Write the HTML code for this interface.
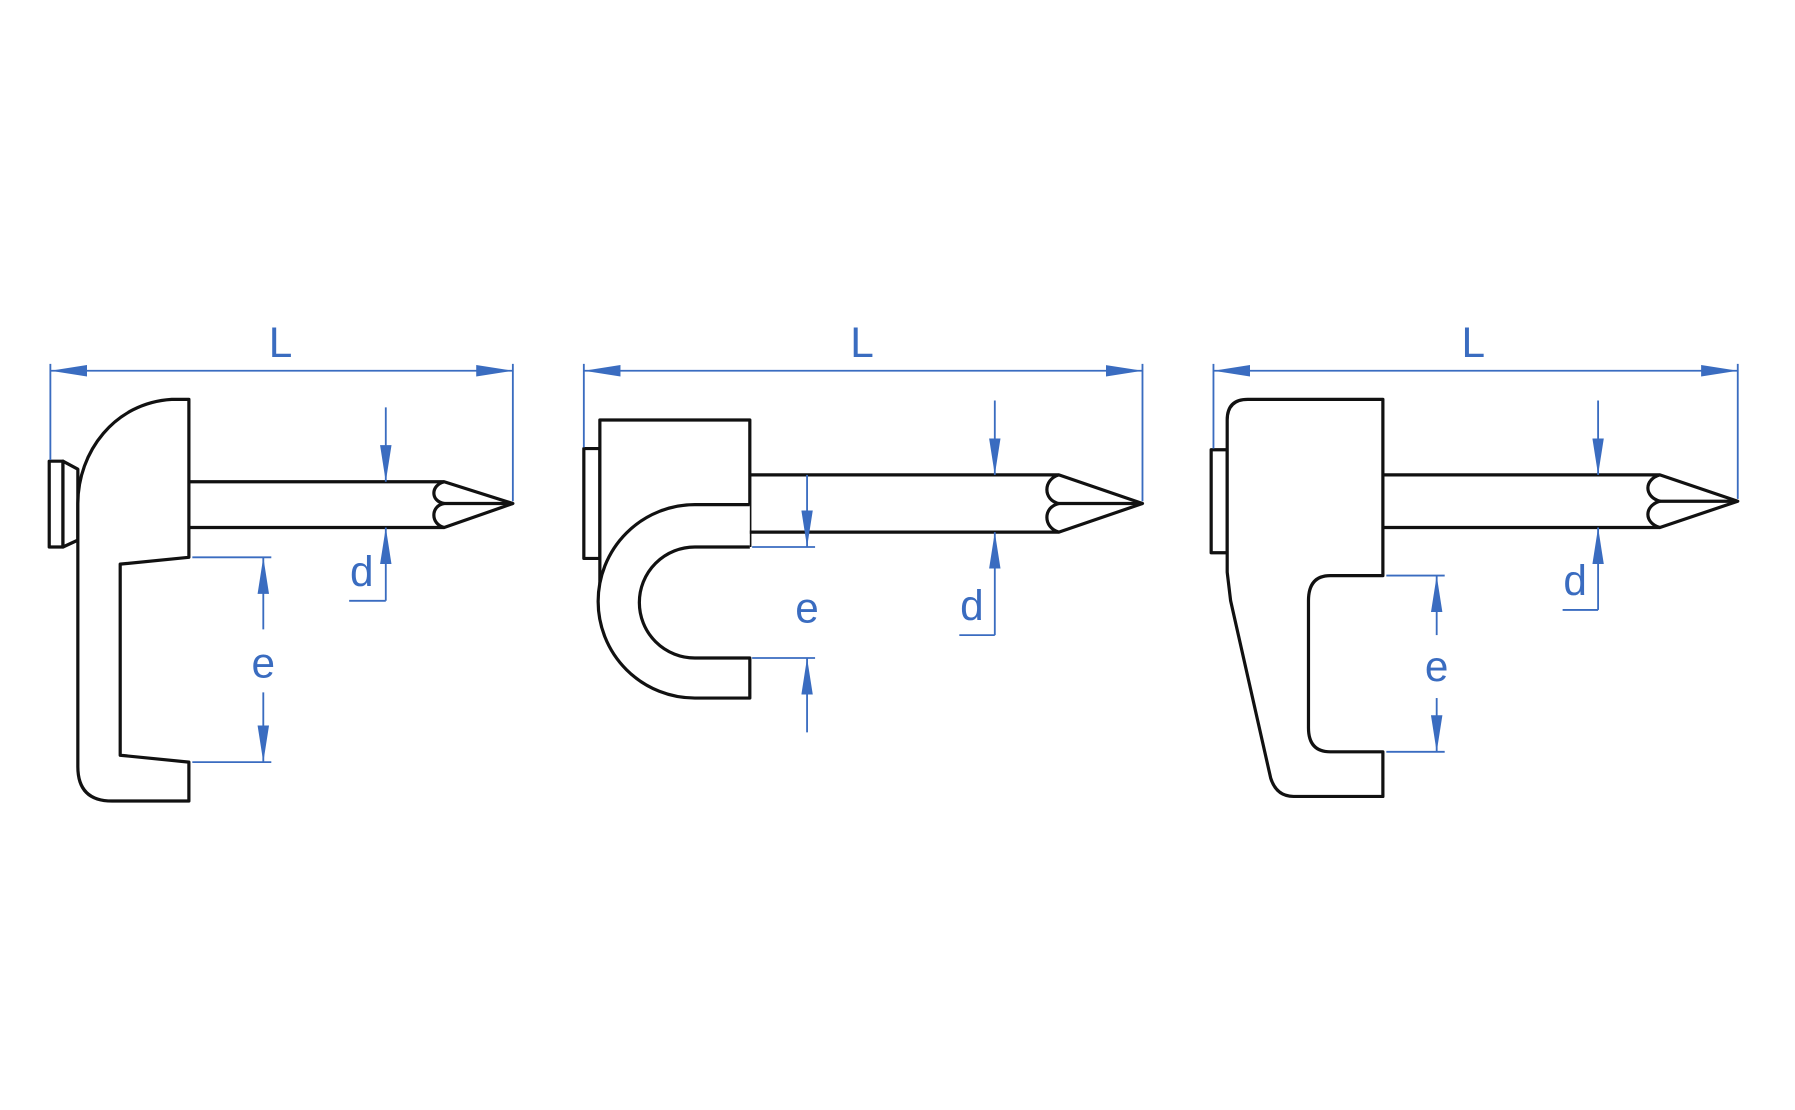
<!DOCTYPE html>
<html><head><meta charset="utf-8"><style>
html,body{margin:0;padding:0;background:#fff;}
svg{display:block;}
text{font-family:"Liberation Sans",sans-serif;fill:#3a6cc0;font-size:37px;text-anchor:middle;}
</style></head><body>
<svg width="1795" height="1110" viewBox="0 0 1568 970" preserveAspectRatio="none">
<defs>
<marker id="a" viewBox="0 0 10 10" refX="10" refY="5" markerWidth="32" markerHeight="10" markerUnits="userSpaceOnUse" orient="auto-start-reverse" preserveAspectRatio="none"><path d="M0,0 L10,5 L0,10 Z" fill="#3a6cc0"/></marker>
</defs>
<g stroke="#111" stroke-width="2.8" fill="#fff" stroke-linejoin="round">
<rect x="43" y="403" width="12" height="75"/>
<path d="M55,403 L68,410 L68,472 L55,478 Z"/>
<path d="M165,349 L150,349 C100,352 68,395 68,440 L68,670 Q68,700 98,700 L165,700 L165,666 L105,660 L105,493 L165,487 Z"/>
<path d="M165,421 L388,421 L448,440 L388,461 L165,461" fill="none"/>
<path d="M388,421 C376,424 376,438 388,440 C376,442 376,458 388,461" fill="none"/>
<line x1="388" y1="440" x2="448" y2="440"/>
<rect x="510" y="392" width="14" height="96"/>
<path d="M524,510 L524,367 L655,367 L655,478"/>
<path d="M655,441 L607,441 A84.5,84.5 0 0 0 607,610 L655,610 L655,575 L607,575 A48.5,48.5 0 0 1 607,478 L655,478"/>
<path d="M655,415 L925,415 L998,440 L925,465 L655,465" fill="none"/>
<path d="M925,415 C911,419 911,437 925,440 C911,443 911,461 925,465" fill="none"/>
<line x1="925" y1="440" x2="998" y2="440"/>
<rect x="1058" y="393" width="14" height="90"/>
<path d="M1090,349 L1208,349 L1208,503 L1162,503 Q1143,503 1143,525 L1143,636 Q1143,657 1162,657 L1208,657 L1208,696 L1130,696 Q1115,696 1110,680 L1075,525 L1072,500 L1072,367 Q1072,349 1090,349 Z"/>
<path d="M1208,415 L1450,415 L1518,438 L1450,461 L1208,461" fill="none"/>
<path d="M1450,415 C1436,419 1436,434 1450,438 C1436,442 1436,457 1450,461" fill="none"/>
<line x1="1450" y1="438" x2="1518" y2="438"/>
</g>
<g stroke="#3a6cc0" stroke-width="1.6" fill="none">
<line x1="44" y1="318" x2="44" y2="402"/><line x1="448" y1="318" x2="448" y2="438"/>
<line x1="44" y1="324" x2="448" y2="324" marker-start="url(#a)" marker-end="url(#a)"/>
<line x1="337" y1="356" x2="337" y2="421" marker-end="url(#a)"/>
<line x1="337" y1="525" x2="337" y2="461" marker-end="url(#a)"/>
<line x1="305" y1="525" x2="337" y2="525"/>
<line x1="168" y1="487" x2="237" y2="487"/><line x1="168" y1="666" x2="237" y2="666"/>
<line x1="230" y1="550" x2="230" y2="487" marker-end="url(#a)"/>
<line x1="230" y1="605" x2="230" y2="666" marker-end="url(#a)"/>
<line x1="510" y1="318" x2="510" y2="391"/><line x1="998" y1="318" x2="998" y2="438"/>
<line x1="510" y1="324" x2="998" y2="324" marker-start="url(#a)" marker-end="url(#a)"/>
<line x1="869" y1="350" x2="869" y2="415" marker-end="url(#a)"/>
<line x1="869" y1="555" x2="869" y2="465" marker-end="url(#a)"/>
<line x1="838" y1="555" x2="869" y2="555"/>
<line x1="657" y1="478" x2="712" y2="478"/><line x1="657" y1="575" x2="712" y2="575"/>
<line x1="705" y1="415" x2="705" y2="478" marker-end="url(#a)"/>
<line x1="705" y1="640" x2="705" y2="575" marker-end="url(#a)"/>
<line x1="1060" y1="318" x2="1060" y2="392"/><line x1="1518" y1="318" x2="1518" y2="436"/>
<line x1="1060" y1="324" x2="1518" y2="324" marker-start="url(#a)" marker-end="url(#a)"/>
<line x1="1396" y1="350" x2="1396" y2="415" marker-end="url(#a)"/>
<line x1="1396" y1="533" x2="1396" y2="461" marker-end="url(#a)"/>
<line x1="1365" y1="533" x2="1396" y2="533"/>
<line x1="1211" y1="503" x2="1262" y2="503"/><line x1="1211" y1="657" x2="1262" y2="657"/>
<line x1="1255" y1="555" x2="1255" y2="503" marker-end="url(#a)"/>
<line x1="1255" y1="610" x2="1255" y2="657" marker-end="url(#a)"/>
</g>
<text x="245" y="312">L</text><text x="753" y="312">L</text><text x="1287" y="312">L</text>
<text x="316" y="512">d</text><text x="849" y="542">d</text><text x="1376" y="520">d</text>
<text x="230" y="592">e</text><text x="705" y="544">e</text><text x="1255" y="595">e</text>
</svg>
</body></html>
